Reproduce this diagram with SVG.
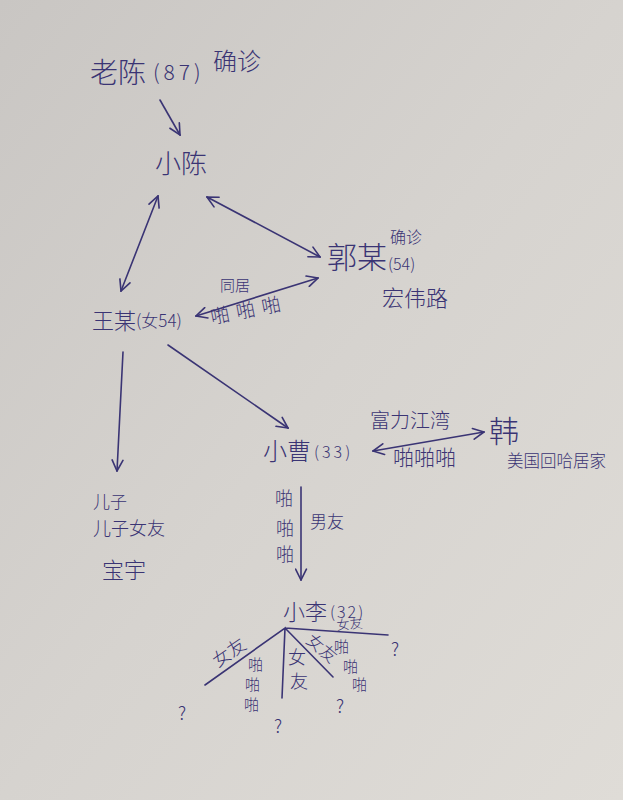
<svg xmlns="http://www.w3.org/2000/svg" width="623" height="800" viewBox="0 0 623 800">
<style>
text{font-family:"Noto Sans CJK SC","Noto Sans",sans-serif;fill:#3a3474;font-weight:300}
.c line,.c path{stroke:#3a3474;stroke-width:1.6;fill:none;stroke-linecap:round}
</style>
<defs>
<linearGradient id="bg" x1="0" y1="0" x2="1" y2="1">
<stop offset="0" stop-color="#c9c6c3"/>
<stop offset="0.5" stop-color="#d6d3cf"/>
<stop offset="1" stop-color="#dfdcd7"/>
</linearGradient>
<marker id="a" viewBox="0 0 12 12" refX="11" refY="6" markerWidth="13" markerHeight="13" markerUnits="userSpaceOnUse" orient="auto-start-reverse">
<path d="M1,1 L11,6 L1,11" fill="none" stroke="#3a3474" stroke-width="1.5" stroke-linecap="round"/>
</marker>
</defs>
<rect width="623" height="800" fill="url(#bg)"/>

<g id="laochen"><text x="90" y="83" font-size="28">老陈</text><text x="153" y="80" font-size="21" letter-spacing="4">(87)</text><text x="213" y="70" font-size="24">确诊</text></g>
<g id="xiaochen"><text x="155" y="173" font-size="26">小陈</text></g>
<g id="guomou"><text x="327" y="268" font-size="30">郭某</text><text x="390" y="243" font-size="16">确诊</text><text x="388" y="270" font-size="16">(54)</text><text x="382" y="306" font-size="22">宏伟路</text></g>
<g id="wangmou"><text x="92" y="329" font-size="22">王某</text><text x="136" y="327" font-size="17">(女54)</text></g>
<g id="xiaocao"><text x="263" y="460" font-size="24">小曹</text><text x="314" y="458" font-size="16" letter-spacing="3">(33)</text></g>
<g id="han"><text x="489" y="442" font-size="30">韩</text><text x="507" y="467" font-size="16.5">美国回哈居家</text></g>
<g id="erzi"><text x="93" y="508" font-size="17">儿子</text><text x="93" y="535" font-size="18">儿子女友</text><text x="102" y="578" font-size="22">宝宇</text></g>
<g id="xiaoli"><text x="283" y="620" font-size="22">小李</text><text x="330" y="618" font-size="16" letter-spacing="2">(32)</text></g>

<g id="labels">
<text x="220" y="291" font-size="15">同居</text>
<text x="212" y="324" font-size="19" letter-spacing="7" transform="rotate(-11 212 324)">啪啪啪</text>
<text x="370" y="428" font-size="20">富力江湾</text>
<text x="393" y="465" font-size="21">啪啪啪</text>
<text x="275" y="505" font-size="18">啪</text><text x="276" y="535" font-size="18">啪</text><text x="276" y="561" font-size="18">啪</text>
<text x="310" y="528" font-size="17">男友</text>
<text x="218" y="668" font-size="18" transform="rotate(-35 218 668)">女友</text>
<text x="248" y="670" font-size="15">啪</text><text x="245" y="690" font-size="15">啪</text><text x="244" y="710" font-size="15">啪</text>
<text x="288" y="664" font-size="18">女</text><text x="290" y="688" font-size="18">友</text>
<text x="305" y="642" font-size="17" transform="rotate(40 305 642)">女友</text>
<text x="334" y="652" font-size="15">啪</text><text x="343" y="672" font-size="15">啪</text><text x="352" y="690" font-size="15">啪</text>
<text x="337" y="630" font-size="13" transform="rotate(-5 337 630)">女友</text>
<text x="178" y="720" font-size="18">?</text>
<text x="274" y="733" font-size="18">?</text>
<text x="336" y="713" font-size="18">?</text>
<text x="391" y="656" font-size="18">?</text>
</g>

<g class="c" id="connectors">
<line x1="160" y1="100" x2="180" y2="135" marker-end="url(#a)"/>
<line x1="158" y1="196" x2="121" y2="291" marker-start="url(#a)" marker-end="url(#a)"/>
<line x1="207" y1="197" x2="320" y2="257" marker-start="url(#a)" marker-end="url(#a)"/>
<line x1="196" y1="316" x2="318" y2="278" marker-start="url(#a)" marker-end="url(#a)"/>
<line x1="123" y1="352" x2="117" y2="471" marker-end="url(#a)"/>
<line x1="168" y1="345" x2="288" y2="428" marker-end="url(#a)"/>
<line x1="373" y1="451" x2="484" y2="432" marker-start="url(#a)" marker-end="url(#a)"/>
<line x1="301" y1="487" x2="301" y2="580" marker-end="url(#a)"/>
<path d="M205,685 L285,628 L282,698 M285,628 L333,677 M285,628 L388,635"/>
</g>
</svg>
